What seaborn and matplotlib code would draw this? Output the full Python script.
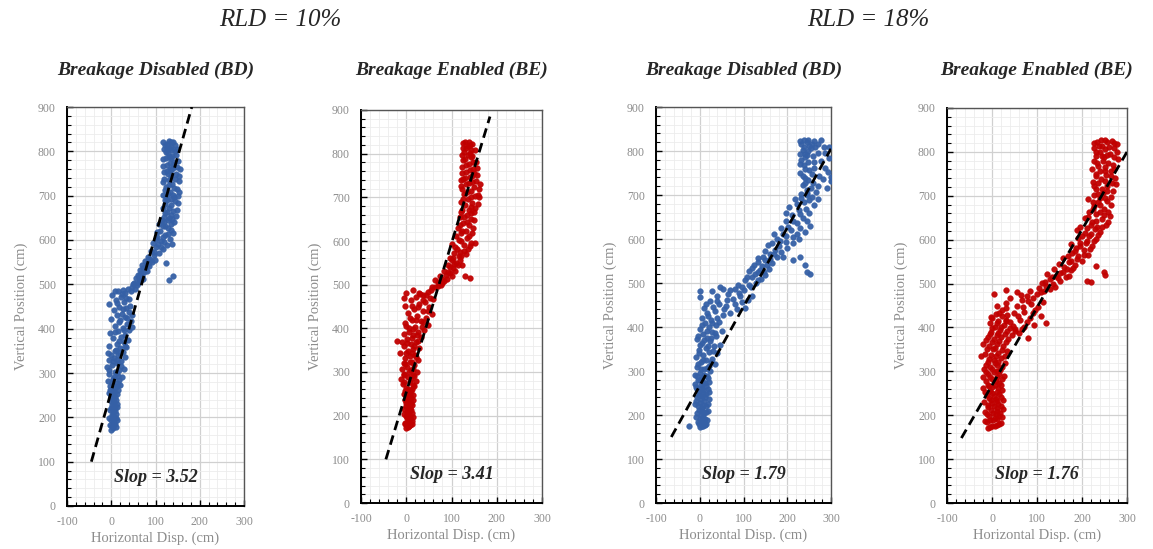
import matplotlib
matplotlib.use("Agg")
import matplotlib.pyplot as plt
from matplotlib.ticker import MultipleLocator
import seaborn as sns
import pandas as pd

# ---------------- data ----------------
group_titles = ["RLD = 10%", "RLD = 18%"]
panel_titles = ["Breakage Disabled (BD)", "Breakage Enabled (BE)",
                "Breakage Disabled (BD)", "Breakage Enabled (BE)"]
slope_labels = ["Slop = 3.52", "Slop = 3.41", "Slop = 1.79", "Slop = 1.76"]
x_ticks = [-100, 0, 100, 200, 300]
y_ticks = [0, 100, 200, 300, 400, 500, 600, 700, 800, 900]

pts_bd10 = [
    (0,172),(5,175),(10,178),(-2,182),(8,185),(3,190),(12,193),(-4,198),(6,200),(1,205),(10,208),(4,212),(-3,216),
    (9,220),(14,224),(2,228),(7,232),(-1,236),(11,240),(5,244),(0,248),(13,252),
    (-6,256),(4,260),(16,262),(9,266),(-2,270),(20,274),(12,278),(-8,282),(3,286),(24,290),(15,294),(-4,298),(8,302),
    (18,306),(28,310),(-10,314),(2,318),(12,322),(22,326),(-5,330),(6,334),(30,336),(16,340),(-8,344),(26,348),
    (10,352),(20,356),(34,358),(-4,362),(14,366),(28,370),(38,374),(4,378),(22,382),(32,386),(-2,390),(16,394),
    (40,398),(26,402),(8,406),(36,410),(18,414),(44,418),(0,422),(30,426),(12,430),(24,434),(40,438),(6,442),
    (34,446),(18,450),(-4,456),(28,460),(10,464),(40,468),(22,472),(2,476),(32,480),(16,484),(26,488),(38,490),
    (48,494),(58,498),(52,504),(64,508),(56,514),(70,518),(60,522),(74,528),(66,532),(78,538),(70,544),(84,548),
    (76,552),(90,556),
    (84,562),(96,566),(108,570),(90,576),(118,580),(100,584),(126,588),(94,594),(112,598),(132,602),(104,606),
    (122,612),(140,616),(110,620),(128,626),(116,632),(136,636),(120,640),(130,510),(140,518),(124,548),(138,590),
    (114,646),(130,650),(146,654),(122,660),(140,666),(118,672),(134,678),(150,684),(126,690),(142,696),(116,702),
    (132,708),(148,714),(124,720),(138,726),(152,732),(120,738),(134,744),(146,750),(126,756),(140,762),(118,768),
    (132,774),(150,778),(124,784),(138,790),(128,796),(144,800),(120,806),(134,810),(126,816),(140,820),(130,824),
    (122,814),(136,786),(130,736),(128,704),
]
pts_bd10_more = [
    (2,180),(7,188),(-1,194),(11,198),(4,204),(8,214),(0,220),(12,230),(3,238),(9,246),(6,256),(-3,262),(12,270),
    (1,278),(18,284),(6,292),(14,300),(-6,306),(22,316),(4,326),(14,330),(20,346),(0,340),(8,350),(30,362),(18,372),
    (8,392),(28,396),(46,404),(20,420),(36,424),(48,430),(26,444),(42,452),(14,458),(34,470),(24,478),(8,486),
    (44,486),(54,490),(50,500),(60,504),(62,514),(66,520),(72,512),(68,526),(80,530),(72,536),(86,542),(80,546),
    (92,550),(86,558),(98,556),(96,574),(112,584),(106,592),(120,596),(100,602),(116,606),(128,614),(104,618),
    (134,622),(122,632),(108,636),(142,640),(128,644),(138,648),
    (120,652),(136,656),(126,664),(148,668),(130,672),(122,682),(144,688),(136,692),(124,698),(140,702),(154,708),
    (122,712),(142,718),(130,724),(118,730),(144,738),(128,748),(152,744),(120,754),(136,758),(148,764),(126,770),
    (142,776),(116,782),(130,788),(146,792),(124,798),(138,804),(130,808),(144,814),(118,820),(134,822),(126,806),
    (148,806),(140,770),(132,760),(122,690),(156,760),(150,700),
]

pts_be10 = [
    (0,172),(6,176),(12,180),(-3,184),(4,188),(9,192),(14,196),(-1,200),(7,204),(2,208),(11,212),(-4,216),(5,220),
    (13,224),(0,228),(8,232),(-2,236),(10,240),(3,244),(15,248),(6,252),(-3,256),(12,260),
    (0,264),(18,268),(-8,272),(8,276),(22,280),(-12,284),(4,288),(14,292),(-4,296),(24,300),(10,304),(-10,308),
    (2,312),(18,316),(-6,320),(12,324),(26,328),(-2,332),(8,336),(20,340),(-14,344),(4,348),(16,352),(28,356),
    (-6,360),(10,364),(22,368),(-20,372),(2,376),(32,380),
    (14,384),(-4,388),(26,392),(40,396),(6,400),(20,404),(48,408),(-2,412),(32,416),(12,420),(44,424),(24,428),
    (56,432),(4,436),(36,440),(18,444),(50,448),(-2,452),(28,456),(42,460),(10,464),(60,468),(22,472),(36,476),
    (0,480),(48,484),(16,488),(30,478),
    (58,494),(70,498),(80,504),(64,510),(90,514),(74,520),(96,526),(84,532),(104,538),(92,544),(110,550),(100,556),
    (96,562),(116,566),(106,572),(128,576),(112,582),(140,588),(100,594),(122,600),(134,606),(110,612),(146,618),
    (124,624),(114,630),(138,636),(126,642),(150,648),(130,520),(140,516),(124,546),(152,596),
    (118,654),(134,660),(150,666),(124,672),(142,678),(158,684),(120,690),(136,696),(152,702),(128,708),(144,714),
    (160,720),(122,726),(138,732),(154,738),(130,744),(146,750),(124,756),(140,762),(156,768),(132,774),(148,780),
    (126,786),(142,792),(136,798),(128,804),(144,808),(132,814),(140,820),(126,824),(138,826),(150,756),(120,740),
]
pts_be10_more = [
    (3,174),(9,178),(-2,180),(6,184),(12,188),(1,194),(8,198),(-4,204),(12,206),(4,214),(9,218),(-1,222),(10,228),
    (4,236),(14,236),(1,242),(8,248),(-5,250),(10,256),(4,262),(14,270),(-4,278),(10,284),(18,290),(-6,292),(6,300),
    (16,308),(-2,318),(8,322),(22,334),(0,344),(12,344),(18,360),(2,366),(-10,368),(26,372),(12,378),(24,384),
    (6,392),(16,398),(34,404),(0,406),(38,414),(22,418),(8,424),(48,440),(26,448),(12,452),(36,464),(52,470),
    (28,480),(-4,470),(44,476),
    (54,488),(64,494),(76,500),(70,506),(84,508),(78,514),(88,522),(100,520),(92,530),(108,532),(96,540),(114,544),
    (106,548),(118,556),(104,562),(122,566),(132,570),(118,574),(136,582),(108,586),(128,590),(144,596),(116,602),
    (138,612),(120,618),(132,622),(148,630),(118,636),(134,644),(144,650),
    (128,656),(144,664),(122,666),(138,672),(152,676),(130,682),(146,688),(126,696),(142,700),(158,706),(134,712),
    (124,718),(150,724),(132,730),(146,736),(126,742),(140,746),(156,752),(132,758),(148,764),(124,770),(138,776),
    (154,782),(130,788),(146,794),(124,798),(140,802),(152,808),(126,812),(136,818),(146,822),(130,826),(162,730),
    (160,700),
]

pts_bd18 = [
    (0,172),(8,175),(14,180),(-4,184),(4,188),(12,192),(-8,196),(2,200),(10,204),(18,208),(-2,212),(6,216),(14,220),
    (-10,224),(0,228),(10,232),(20,236),(-6,240),(4,244),(14,248),(-2,252),(8,256),(18,260),(-8,264),(2,268),
    (12,272),(22,276),(-4,280),(6,284),(16,288),(-10,292),(0,296),(24,300),(-25,176),
    (10,304),(-6,308),(20,312),(34,316),(2,320),(14,324),(28,328),(-8,332),(8,336),(40,340),(22,344),(-2,348),
    (14,352),(32,356),(46,360),(4,364),(24,368),(-6,372),(16,376),(38,380),(8,384),(28,388),(50,392),(0,396),
    (20,400),(36,404),(12,408),(44,412),(26,416),(4,420),
    (18,424),(52,428),(70,432),(34,436),(86,440),(10,444),(60,448),(44,452),(96,456),(24,460),(76,464),(0,468),
    (40,470),(64,474),(90,478),(28,482),(52,486),(0,482),(46,490),(80,486),(110,462),(104,444),(120,470),
    (96,492),(112,496),(128,500),(104,506),(140,508),(120,514),(150,518),(132,524),(112,528),(158,532),(142,538),
    (124,542),(166,546),(150,552),(134,556),(176,560),
    (160,566),(186,570),(172,576),(200,580),(156,586),(214,590),(184,596),(226,600),(198,606),(170,612),(240,616),
    (208,620),(186,626),(252,630),(222,636),(196,642),(236,648),(210,654),(250,660),(226,666),(204,672),(262,678),
    (238,684),(218,690),(256,696),(244,524),(252,520),(240,540),(228,560),(212,552),
    (232,702),(266,706),(246,712),(290,716),(236,722),(258,728),(300,732),(240,738),(272,744),(230,750),(250,756),
    (286,762),(238,768),(260,774),(232,780),(296,784),(246,790),(270,796),(236,802),(254,806),(284,810),(232,816),
    (244,820),(262,822),(238,826),(276,824),(250,812),(240,794),(300,740),
]
pts_bd18_more = [
    (4,174),(12,178),(-2,180),(6,184),(16,188),(0,192),(8,196),(-6,204),(14,206),(4,210),(-4,220),(8,222),(18,226),
    (-8,232),(2,236),(12,240),(-2,246),(8,250),(20,252),(-6,258),(4,262),(14,266),(-10,270),(8,276),(0,280),
    (18,284),(-6,288),(10,292),(2,304),(16,306),(-4,316),(26,320),(8,326),(-2,340),(30,346),(18,356),(0,360),
    (10,370),(26,376),(-4,380),(34,386),(16,392),(4,404),(28,408),(40,420),(16,432),(30,446),(56,440),(40,460),
    (62,462),(80,452),(14,452),(70,484),(92,470),
    (100,484),(88,496),(118,490),(134,506),(108,514),(126,520),(146,526),(138,530),(120,534),(154,540),(132,548),
    (160,554),(144,560),(170,566),(150,572),(190,560),(180,584),(164,590),(198,594),(176,600),(212,604),(190,612),
    (222,612),(202,628),(230,626),(214,640),(244,640),(230,656),(196,658),(242,668),(222,680),(250,688),(232,694),
    (270,690),(246,700),
    (244,704),(254,716),(270,720),(240,728),(248,734),(282,736),(236,744),(256,748),(294,752),(240,758),(262,762),
    (230,770),(248,776),(276,778),(240,786),(258,788),(230,794),(286,796),(248,800),(238,808),(264,810),(230,822),
    (248,824),(256,816),(270,816),(296,808),
]

pts_be18 = [
    (-10,172),(0,175),(10,178),(20,182),(-16,186),(-4,190),(6,194),(16,198),(-12,202),(2,206),(12,210),(24,214),
    (-8,218),(4,222),(14,226),(-18,230),(-2,234),(8,238),(20,242),(-12,246),(0,250),(10,254),(22,258),(-20,262),
    (-6,266),(6,270),(16,274),(-14,278),(0,282),(12,286),(26,290),(-8,294),(4,298),
    (18,302),(-18,306),(-4,310),(10,314),(28,318),(-10,322),(4,326),(20,330),(-24,334),(-2,338),(14,342),(34,346),
    (-12,350),(6,354),(24,358),(-20,362),(0,366),(16,370),(36,374),(-8,378),(10,382),(28,386),(-2,390),(18,394),
    (40,398),(6,402),(26,406),(-4,410),(14,414),(32,418),(0,422),(22,426),(8,430),
    (44,382),(60,388),(80,376),(52,396),(70,402),(94,406),(40,412),(62,418),(84,422),(108,426),(48,432),(72,436),
    (96,440),(30,444),(56,450),(86,454),(114,458),(66,462),(40,468),(78,472),(100,476),(56,480),(4,476),(84,484),
    (30,486),(120,410),
    (104,490),(120,494),(136,498),(112,502),(150,506),(128,510),(164,514),(142,518),(122,522),(158,526),(176,530),
    (138,534),
    (160,538),(184,542),(170,548),(200,552),(158,558),(192,562),(214,566),(178,570),(204,576),(186,582),(222,586),
    (196,592),(212,598),(232,602),(200,608),(220,614),(240,618),(188,622),(248,526),(250,520),(230,540),(220,504),
    (210,506),
    (212,626),(234,630),(254,634),(222,640),(244,646),(206,650),(262,654),(230,658),(216,664),(248,670),(226,676),
    (264,680),(236,686),(214,692),(252,696),
    (226,702),(246,706),(268,710),(232,716),(256,722),(276,726),(224,732),(242,738),(264,744),(230,750),(250,756),
    (272,762),(236,768),(258,774),(226,780),(280,784),(244,790),(262,796),(232,800),(252,806),(270,810),(238,814),
    (226,820),(256,822),(242,826),(266,824),(278,818),(248,788),
]
pts_be18_more = [
    (-4,174),(6,176),(16,180),(-12,184),(2,188),(12,192),(22,196),(-6,198),(8,202),(18,206),(-16,208),(-2,212),
    (10,216),(20,220),(-10,224),(0,228),(12,232),(24,234),(-6,240),(4,244),(16,248),(-16,252),(-4,256),(14,262),
    (0,264),(20,268),(-10,270),(8,278),(22,282),(-20,286),(-4,288),(16,294),(-14,298),(10,300),(0,306),(22,310),
    (-14,314),(6,318),(14,322),(-6,328),(28,334),(8,336),(-16,340),(22,348),(2,352),(-6,358),(12,362),(30,366),
    (-14,372),(4,374),(20,378),(-4,386),(14,388),(34,392),(0,398),(20,402),(10,410),(30,414),(-2,424),(16,434),
    (34,428),(22,440),(12,450),(30,456),
    (50,392),(66,396),(46,404),(78,412),(58,426),(90,432),(68,446),(102,446),(80,460),(92,466),(64,474),(108,480),
    (116,484),(128,488),(140,492),(118,504),(146,512),(134,516),(170,518),(150,524),(166,534),(180,536),(148,544),
    (176,552),(188,556),(168,562),(204,564),(184,574),(218,578),(196,586),(176,590),(208,592),(226,596),(190,604),
    (216,608),(236,610),(206,616),(228,624),(196,630),(244,628),(220,634),(258,640),(232,642),(214,652),(248,656),
    (240,662),(224,670),(258,664),(240,678),(224,686),(256,688),(240,694),(264,698),
    (236,704),(256,712),(244,716),(226,722),(266,730),(236,728),(252,734),(274,740),(232,744),(254,748),(240,756),
    (264,756),(222,760),(250,766),(268,770),(234,774),(246,780),(270,788),(232,790),(256,794),(240,800),(278,800),
    (226,808),(260,812),(244,814),(234,822),(270,820),(252,826),
]

# dashed trend-line endpoints
fit_bd10_x, fit_bd10_y = [-45, 182], [100, 900]
fit_be10_x, fit_be10_y = [-45, 185], [100, 885]
fit_bd18_x, fit_bd18_y = [-65, 300], [150, 805]
fit_be18_x, fit_be18_y = [-68, 300], [148, 800]

# ---------------- styling ----------------
sns.set_style("white")
plt.rcParams["font.family"] = ["Liberation Serif", "DejaVu Serif"]
plt.rcParams["axes.unicode_minus"] = False

BLUE = "#3560a6"
RED = "#c00000"
GRAY_TXT = "#8c8c8c"

fig = plt.figure(figsize=(11.53, 5.49), dpi=100)

rects = [
    (67/1153, (549-506)/549, 177/1153, 399/549),
    (361/1153, (549-503)/549, 181/1153, 393/549),
    (656/1153, (549-503)/549, 175/1153, 396/549),
    (947/1153, (549-503)/549, 180/1153, 395/549),
]
panels = [
    (pts_bd10 + pts_bd10_more, BLUE, fit_bd10_x, fit_bd10_y),
    (pts_be10 + pts_be10_more, RED, fit_be10_x, fit_be10_y),
    (pts_bd18 + pts_bd18_more, BLUE, fit_bd18_x, fit_bd18_y),
    (pts_be18 + pts_be18_more, RED, fit_be18_x, fit_be18_y),
]

for i, (rect, (pts, col, fx, fy)) in enumerate(zip(rects, panels)):
    ax = fig.add_axes(rect)
    df = pd.DataFrame(pts, columns=["x", "y"])
    ax.set_xlim(-100, 300)
    ax.set_ylim(0, 900)
    ax.xaxis.set_minor_locator(MultipleLocator(20))
    ax.yaxis.set_minor_locator(MultipleLocator(20))
    ax.set_xticks(x_ticks)
    ax.set_yticks(y_ticks)
    ax.grid(which="major", color="#d0d0d0", lw=0.9)
    ax.grid(which="minor", color="#ececec", lw=0.6)
    ax.set_axisbelow(True)
    sns.scatterplot(data=df, x="x", y="y", ax=ax, color=col, s=17,
                    edgecolor=col, linewidth=0.3, alpha=0.95, zorder=3)
    sns.lineplot(x=fx, y=fy, ax=ax, color="black", lw=2.0, zorder=4)
    ax.lines[-1].set_dashes([3.5, 2.0])
    ax.text(100, 65, slope_labels[i], ha="center", va="center", fontsize=13,
            fontweight="bold", fontstyle="italic", zorder=5)
    ax.set_xlabel("Horizontal Disp. (cm)", color=GRAY_TXT, fontsize=10.5, labelpad=3)
    ax.set_ylabel("Vertical Position (cm)", color=GRAY_TXT, fontsize=10.5, labelpad=7)
    ax.tick_params(which="both", direction="in", colors="black", labelcolor=GRAY_TXT,
                   labelsize=8.5, top=False, right=False, bottom=True, left=True)
    ax.tick_params(which="major", length=4, width=1)
    ax.tick_params(which="minor", length=3, width=0.8)
    ax.tick_params(axis="x", pad=7)
    ax.tick_params(axis="y", pad=8)
    for s in ["left", "bottom"]:
        ax.spines[s].set_color("black")
        ax.spines[s].set_linewidth(1.4)
    for s in ["top", "right"]:
        ax.spines[s].set_color("#555555")
        ax.spines[s].set_linewidth(1.0)
    cx = (rect[0] + rect[2] / 2)
    fig.text(cx, 1 - 70/549, panel_titles[i], ha="center", va="center",
             fontsize=14, fontweight="bold", fontstyle="italic")

fig.text(280/1153, 1 - 20/549, group_titles[0], ha="center", va="center",
         fontsize=18, fontstyle="italic")
fig.text(868/1153, 1 - 20/549, group_titles[1], ha="center", va="center",
         fontsize=18, fontstyle="italic")

fig.savefig("out.png", dpi=100)
